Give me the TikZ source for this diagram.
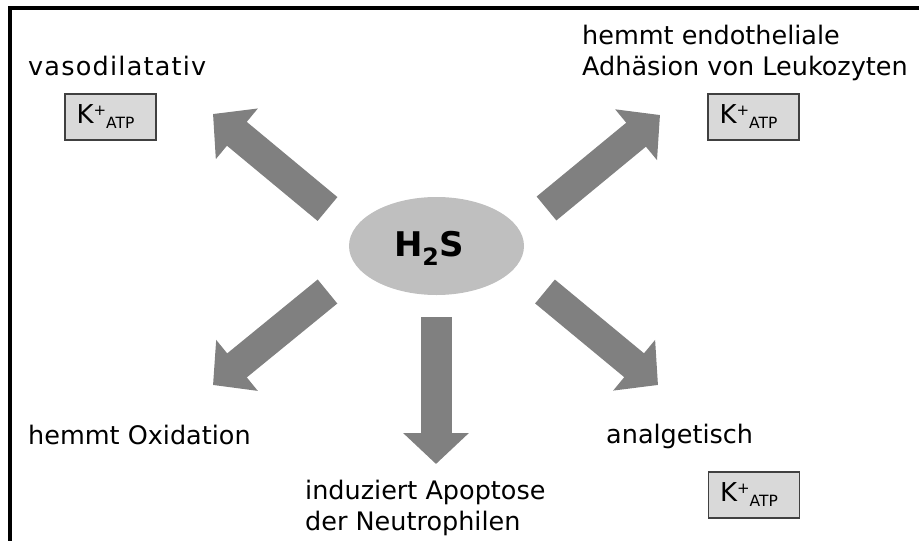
\documentclass[tikz,border=0pt]{standalone}
\usepackage{fontspec}
\setmainfont{DejaVu Sans}
\usetikzlibrary{arrows.meta,shapes.geometric}
\tikzset{
  txt/.style={anchor=base west, inner sep=0pt, align=left, font=\fontsize{25.5}{30.5}\selectfont},
  katp/.style={draw=black!75, fill=black!15, line width=1.2pt, minimum width=91pt, minimum height=46pt, inner sep=0pt, font=\fontsize{26}{28}\selectfont},
  bigarrow/.style={draw=black!50, line width=31pt, -{Triangle[width=64pt,length=31pt]}},
}
\newcommand{\katp}{\hspace*{-10pt}K\raisebox{8pt}{\fontsize{15}{15}\selectfont+}\raisebox{-5pt}{\fontsize{15.5}{16}\selectfont ATP}}
\begin{document}
\begin{tikzpicture}[x=1pt,y=-1pt]
  \useasboundingbox (0,0) rectangle (919,541);
  % frame
  \draw[line width=4pt] (9.5,560) -- (9.5,7.5) -- (930,7.5);
  % centre
  \node[ellipse, fill=black!25, minimum width=175pt, minimum height=98pt] (h2s) at (436.5,246) {};
  \node[font=\fontsize{34}{40}\selectfont\bfseries] (h2stxt) at (429,248) {H\textsubscript{2}S};
  % arrow ends
  \coordinate (ul0) at (327.5,209);   \coordinate (ul1) at (213,114);
  \coordinate (ur0) at (546.5,208.5); \coordinate (ur1) at (660,115);
  \coordinate (dl0) at (327.5,291.5); \coordinate (dl1) at (213,385);
  \coordinate (dr0) at (545,291.5);   \coordinate (dr1) at (658,385);
  \coordinate (dn0) at (436,317);     \coordinate (dn1) at (436,464);
  \draw[bigarrow] (ul0) -- (ul1);
  \draw[bigarrow] (ur0) -- (ur1);
  \draw[bigarrow] (dl0) -- (dl1);
  \draw[bigarrow] (dr0) -- (dr1);
  \draw[bigarrow] (dn0) -- (dn1);
  % effects
  \node[txt, font=\fontsize{25.5}{30.5}\selectfont\addfontfeature{LetterSpace=4.8}] (vaso) at (28,75) {vasodilatativ};
  \node[txt] (adh) at (582,75) {hemmt endotheliale\\Adhäsion von Leukozyten};
  \node[txt] (oxid) at (28,444) {hemmt Oxidation};
  \node[txt] (apopt) at (305,530) {induziert Apoptose\\der Neutrophilen};
  \node[txt] (analg) at (606,443) {analgetisch};
  % channels
  \node[katp] (k1) at (110.5,117) {\katp};
  \node[katp] (k2) at (753.5,117) {\katp};
  \node[katp] (k3) at (754,495) {\katp};
\end{tikzpicture}
\end{document}
